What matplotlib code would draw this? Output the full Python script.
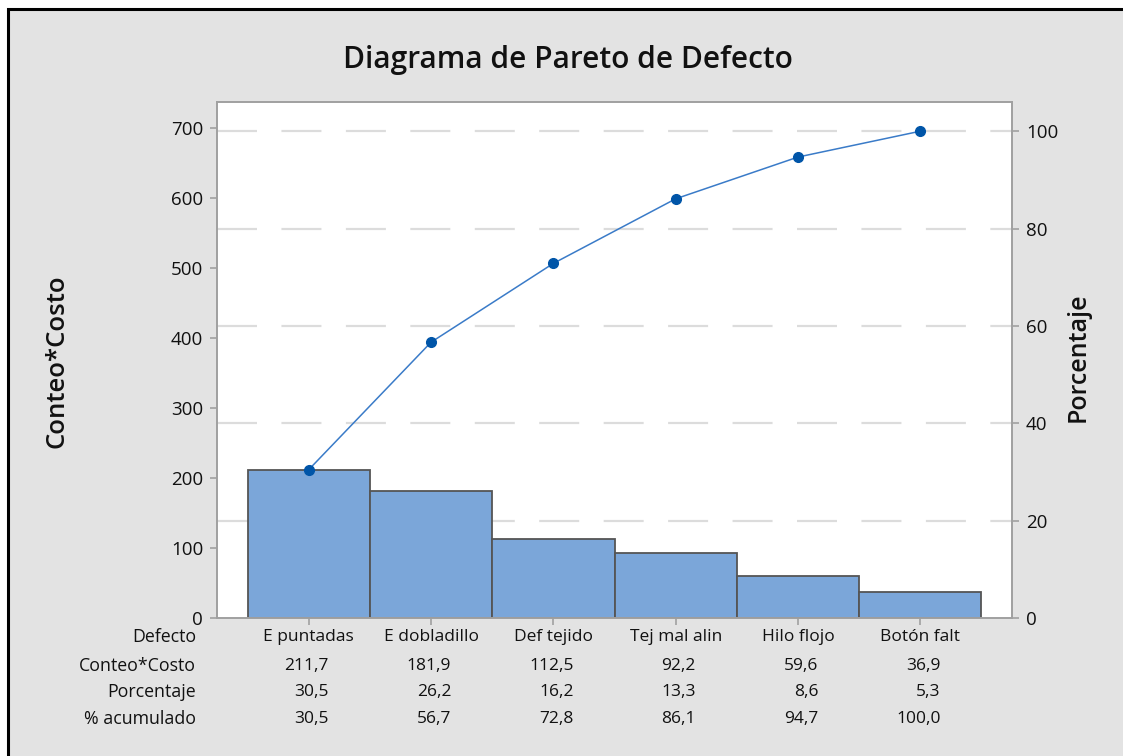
import numpy as np
import matplotlib
matplotlib.use("Agg")
import matplotlib.pyplot as plt
from matplotlib.patches import Rectangle
from matplotlib.transforms import blended_transform_factory

# ---- data ----
categories = ["E puntadas", "E dobladillo", "Def tejido", "Tej mal alin", "Hilo flojo", "Botón falt"]
counts = [211.7, 181.9, 112.5, 92.2, 59.6, 36.9]
percents = [30.5, 26.2, 16.2, 13.3, 8.6, 5.3]
cum_percents = [30.5, 56.7, 72.8, 86.1, 94.7, 100.0]
left_ticks = [0, 100, 200, 300, 400, 500, 600, 700]
right_ticks = [0, 20, 40, 60, 80, 100]
row_labels = ["Defecto", "Conteo*Costo", "Porcentaje", "% acumulado"]

plt.rcParams['font.family'] = ['Open Sans', 'DejaVu Sans']

W, H = 1123, 756
TXT = "#111111"
fig = plt.figure(figsize=(W / 100, H / 100), dpi=100)
fig.patch.set_facecolor("white")

# gray frame with black border (top and left visible)
bg = Rectangle((8 / W, -0.05), 1.2, (H - 9) / H + 0.05, transform=fig.transFigure,
               facecolor="#e3e3e3", edgecolor="black", linewidth=2.2, zorder=-10)
fig.patches.append(bg)

ax = fig.add_axes([217 / W, (H - 618) / H, (1012 - 217) / W, (618 - 102) / H])
ax.set_facecolor("white")

x = np.arange(len(categories))
total = sum(counts)
cum_counts = np.cumsum(counts)
ymax = total * 1.06

ax.set_xlim(-0.75, len(categories) - 0.25)
ax.set_ylim(0, ymax)

# gridlines at percentage ticks
for p in right_ticks[1:]:
    ax.axhline(p / 100 * total, color="#dcdcdc", lw=1.6, dashes=(18, 11), zorder=0)

ax.bar(x, counts, width=1.0, color="#7ba6d9", edgecolor="#555555", linewidth=1.3, zorder=2)
ax.plot(x, cum_counts, color="#3a7bc8", lw=1.1, zorder=3)
ax.plot(x, cum_counts, linestyle="none", marker="o", markersize=7, color="#0055a8", zorder=4)

spine_c = "#a0a0a0"
for s in ax.spines.values():
    s.set_color(spine_c)
    s.set_linewidth(1.2)

ax.set_yticks(left_ticks)
ax.set_yticklabels([str(t) for t in left_ticks])
ax.set_xticks(x)
ax.set_xticklabels([])
ax.tick_params(axis="both", colors=spine_c, labelcolor=TXT, labelsize=13.5,
               direction="out", length=5, width=1.2)
ax.tick_params(axis="y", pad=5)

ax2 = ax.twinx()
ax2.set_ylim(0, ymax / total * 100)
ax2.set_yticks(right_ticks)
ax2.set_yticklabels([str(t) for t in right_ticks])
for s in ax2.spines.values():
    s.set_color(spine_c)
    s.set_linewidth(1.2)
ax2.tick_params(axis="y", colors=spine_c, labelcolor=TXT, labelsize=13.5,
                direction="out", length=5, width=1.2, pad=5)

# titles and labels
fig.text(568 / W, (H - 60) / H, "Diagrama de Pareto de Defecto", ha="center", va="center",
         fontsize=21.5, fontweight="semibold", color=TXT)
fig.text(57 / W, (H - 361) / H, "Conteo*Costo", rotation=90, ha="center", va="center",
         fontsize=18.5, fontweight="semibold", color=TXT)
fig.text(1078 / W, (H - 357) / H, "Porcentaje", rotation=90, ha="center", va="center",
         fontsize=18, fontweight="semibold", color=TXT)

# table below
row_y = [637, 666, 692, 719]
tr = blended_transform_factory(ax.transData, fig.transFigure)
for lab, yy in zip(row_labels, row_y):
    fig.text(196 / W, (H - yy) / H, lab, ha="right", va="center", fontsize=12.8,
             color=TXT)

def fmt(v):
    return f"{v:.1f}".replace(".", ",")

for i, c in enumerate(categories):
    ax.text(x[i], (H - row_y[0]) / H, c, transform=tr, ha="center", va="center",
            fontsize=12.5, color=TXT)
    for vals, yy in zip([counts, percents, cum_percents], row_y[1:]):
        ax.text(x[i] + 0.165, (H - yy) / H, fmt(vals[i]), transform=tr, ha="right", va="center",
                fontsize=12.5, color=TXT)

fig.savefig("out.png", dpi=100)
